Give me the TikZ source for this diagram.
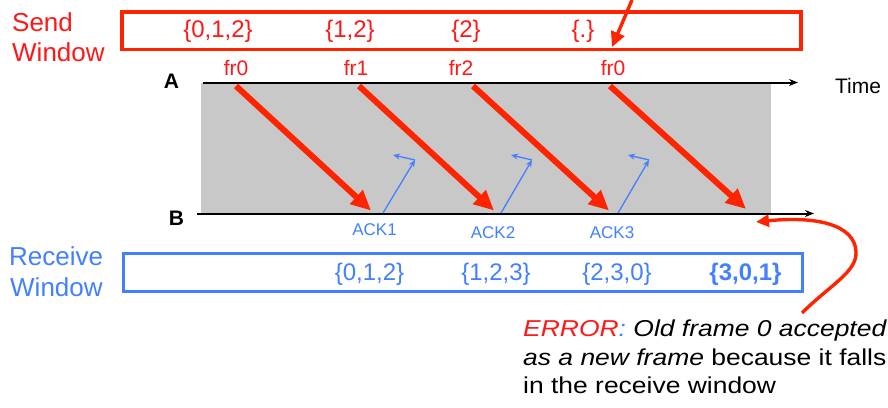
\documentclass[tikz,border=0pt]{standalone}
\usepackage{fontspec}
\setmainfont{Liberation Sans}
\usepackage{graphicx}
\usetikzlibrary{arrows.meta}

\definecolor{framered}{RGB}{255,36,0}
\definecolor{labelred}{RGB}{255,24,24}
\definecolor{ackblue}{RGB}{66,128,255}
\definecolor{linkgray}{RGB}{200,200,200}

\begin{document}
\begin{tikzpicture}[x=1pt,y=-1pt,
  winlabel/.style={font=\fontsize{26}{31}\selectfont, anchor=base west, inner sep=0pt},
  setlbl/.style={font=\fontsize{24}{28}\selectfont, inner sep=0pt},
  frlbl/.style={font=\fontsize{21}{25}\selectfont, text=labelred, inner sep=0pt},
  acklbl/.style={font=\fontsize{17}{20}\selectfont, text=ackblue, inner sep=0pt},
  stationlbl/.style={font=\bfseries\fontsize{21}{25}\selectfont, inner sep=0pt},
  notelbl/.style={font=\fontsize{23}{29}\selectfont, anchor=base west, inner sep=0pt},
  winbox/.style={line width=3.3pt, inner sep=0pt, outer sep=0pt, anchor=north west,
    minimum width=679pt, minimum height=37.5pt},
  timeline/.style={line width=2pt, -{Stealth[length=9pt,width=7pt]}},
  framearrow/.style={framered, line width=6pt, -{Triangle[length=20pt,width=18pt]}},
  ackarrow/.style={ackblue, line width=1.3pt, -{Stealth[length=7pt,width=6pt]}},
  errarrow/.style={framered, line width=3.4pt, -{Triangle[length=13pt,width=12pt]}},
]
\useasboundingbox (0,0) rectangle (888,407);

% channel between the two stations
\fill[linkgray] (201,83) rectangle (771,213.5);

% time lines of stations A and B
\coordinate (astart) at (203,82.5);
\coordinate (aend) at (798,82.5);
\coordinate (bstart) at (197,213.5);
\coordinate (bend) at (814,213.5);
\draw[timeline] (astart) -- (aend);
\draw[timeline] (bstart) -- (bend);
\node[stationlbl] (stA) at (171.5,81.5) {A};
\node[stationlbl] (stB) at (176.5,218) {B};
\node[font=\fontsize{21}{25}\selectfont, inner sep=0pt] (timelbl) at (858,86) {Time};

% sender window
\node[winlabel, text=labelred] (sendl1) at (12,31) {Send};
\node[winlabel, text=labelred] (sendl2) at (12,61.5) {Window};
\node[winbox, draw=framered] (sendwin) at (122,12) {};
\node[setlbl, text=labelred] (sw1) at (218,31) {\{0,1,2\}};
\node[setlbl, text=labelred] (sw2) at (350,31) {\{1,2\}};
\node[setlbl, text=labelred] (sw3) at (466,31) {\{2\}};
\node[setlbl, text=labelred] (sw4) at (583,31) {\{.\}};

% receiver window
\node[winlabel, text=ackblue] (recvl1) at (9,265) {Receive};
\node[winlabel, text=ackblue] (recvl2) at (10,296.5) {Window};
\node[winbox, draw=ackblue, line width=3pt] (recvwin) at (123,253.5) {};
\node[setlbl, text=ackblue] (rw1) at (369.5,274) {\{0,1,2\}};
\node[setlbl, text=ackblue] (rw2) at (496,274) {\{1,2,3\}};
\node[setlbl, text=ackblue] (rw3) at (617,274) {\{2,3,0\}};
\node[setlbl, text=ackblue, font=\bfseries\fontsize{24}{28}\selectfont] (rw4) at (745.5,274) {\{3,0,1\}};

% frames sent by A
\node[frlbl] (fr0) at (236,68) {fr0};
\node[frlbl] (fr1) at (356,68) {fr1};
\node[frlbl] (fr2) at (461,68) {fr2};
\node[frlbl] (fr0b) at (613,68) {fr0};
\coordinate (s0) at (236,86);   \coordinate (t0) at (371,210.5);
\coordinate (s1) at (359,86);   \coordinate (t1) at (494,210.5);
\coordinate (s2) at (473,86);   \coordinate (t2) at (609,210.5);
\coordinate (s3) at (610,86);   \coordinate (t3) at (746,209);
\draw[framearrow] (s0) -- (t0);
\draw[framearrow] (s1) -- (t1);
\draw[framearrow] (s2) -- (t2);
\draw[framearrow] (s3) -- (t3);

% acknowledgements sent by B, lost on the way back
\coordinate (k1a) at (383,213); \coordinate (k1b) at (415,160); \coordinate (k1c) at (393,155);
\coordinate (k2a) at (501,213); \coordinate (k2b) at (532,160); \coordinate (k2c) at (511,155);
\coordinate (k3a) at (618,213); \coordinate (k3b) at (649,160); \coordinate (k3c) at (628,155);
\draw[ackarrow] (k1a) -- (k1b);
\draw[ackarrow] (k1b) -- (k1c);
\draw[ackarrow] (k2a) -- (k2b);
\draw[ackarrow] (k2b) -- (k2c);
\draw[ackarrow] (k3a) -- (k3b);
\draw[ackarrow] (k3b) -- (k3c);
\node[acklbl] (ack1) at (374.5,230) {ACK1};
\node[acklbl] (ack2) at (493,233) {ACK2};
\node[acklbl] (ack3) at (612,232.5) {ACK3};

% pointer into the sender window
\coordinate (ptrtail) at (632,0);
\coordinate (ptrtip) at (612,47);
\draw[errarrow, -{Triangle[length=15pt,width=14pt]}] (ptrtail) -- (ptrtip);

% error note and its arrow
\coordinate (errtail) at (802,313);
\coordinate (errtip) at (756,222);
\draw[errarrow] (errtail) .. controls (830,285) and (857,272) .. (856,252)
  .. controls (855,224) and (815,216) .. (errtip);
\node[notelbl] (note1) at (523,336) {\scalebox{1.15}[1]{\itshape\textcolor{labelred}{ERROR}\textcolor{ackblue}{:} Old frame 0 accepted}};
\node[notelbl] (note2) at (523,365) {\scalebox{1.15}[1]{\textit{as a new frame} because it falls}};
\node[notelbl] (note3) at (523,393.5) {\scalebox{1.15}[1]{in the receive window}};
\end{tikzpicture}
\end{document}
